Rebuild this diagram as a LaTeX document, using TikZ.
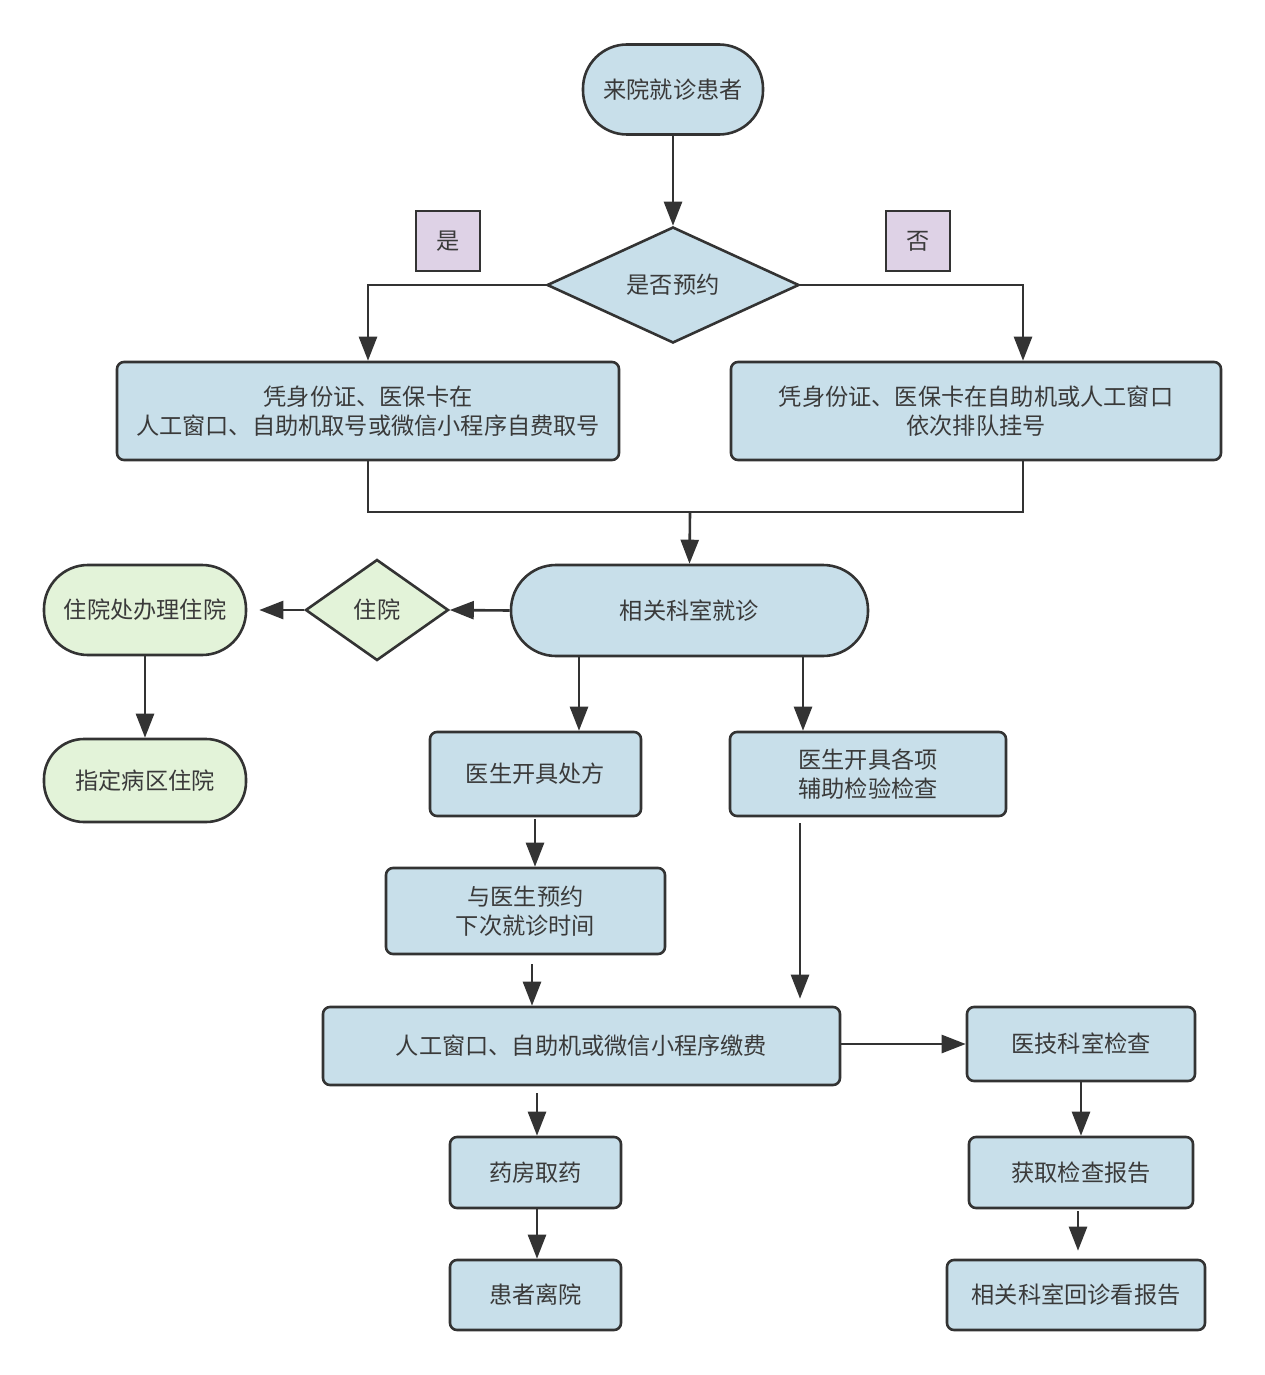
\documentclass[tikz,border=0pt]{standalone}
\usepackage{fontspec}
\newfontfamily\cjk{Noto Sans CJK SC}
\usetikzlibrary{shapes.geometric,arrows.meta,calc}
\definecolor{bluefill}{HTML}{C8DFEA}
\definecolor{greenfill}{HTML}{E3F3D9}
\definecolor{purplefill}{HTML}{DED2E6}
\definecolor{edge}{HTML}{333333}
\definecolor{txt}{HTML}{3A3A3A}
\tikzset{
  base/.style={draw=edge, line width=2.6pt, text=txt, align=center, inner sep=0pt,
    font=\cjk\fontsize{23.2}{29.5}\selectfont},
  procbox/.style={base, fill=bluefill, rectangle, rounded corners=7pt},
  termbox/.style={base, fill=bluefill, rectangle, rounded corners=44pt},
  greenterm/.style={base, fill=greenfill, rectangle, rounded corners=40pt},
  decbox/.style={base, fill=bluefill, diamond},
  greendec/.style={base, fill=greenfill, diamond},
  labelbox/.style={base, fill=purplefill, rectangle, line width=2.4pt},
  arr/.style={draw=edge, line width=2.6pt, -{Triangle[length=24pt,width=18pt]}},
  ln/.style={draw=edge, line width=2.6pt},
}
\begin{document}
\begin{tikzpicture}[x=1pt,y=-1pt]
\useasboundingbox[fill=white] (0,0) rectangle (1265,1375);

\node[termbox, minimum width=180pt, minimum height=90pt] (start) at (673,89.5) {来院就诊患者};
\node[decbox, minimum width=252pt, minimum height=116pt, aspect=2.17] (q1) at (673,285) {是否预约};
\node[labelbox, minimum width=64pt, minimum height=60pt] (yes) at (448,241) {是};
\node[labelbox, minimum width=64pt, minimum height=60pt] (no) at (918,241) {否};

\node[procbox, minimum width=502pt, minimum height=98pt] (left) at (368,411)
  {凭身份证、医保卡在\\人工窗口、自助机取号或微信小程序自费取号};
\node[procbox, minimum width=490pt, minimum height=98pt] (right) at (976,411)
  {凭身份证、医保卡在自助机或人工窗口\\依次排队挂号};

\node[termbox, minimum width=357pt, minimum height=91pt, rounded corners=45pt] (consult) at (689.5,610.5) {相关科室就诊};
\node[greendec, minimum width=143pt, minimum height=101pt, aspect=1.42] (zy) at (377,610) {住院};
\node[greenterm, minimum width=202pt, minimum height=90pt, rounded corners=44pt] (zyc) at (145,610) {住院处办理住院};
\node[greenterm, minimum width=202pt, minimum height=83pt, rounded corners=40pt] (zdbq) at (145,780.5) {指定病区住院};

\node[procbox, minimum width=211pt, minimum height=84pt] (cf) at (535.5,774) {医生开具处方};
\node[procbox, minimum width=276pt, minimum height=84pt] (fz) at (868,774) {医生开具各项\\辅助检验检查};
\node[procbox, minimum width=279pt, minimum height=86pt] (yy) at (525.5,911) {与医生预约\\下次就诊时间};
\node[procbox, minimum width=517pt, minimum height=78pt] (pay) at (581.5,1046) {人工窗口、自助机或微信小程序缴费};
\node[procbox, minimum width=228pt, minimum height=74pt] (yj) at (1081,1044) {医技科室检查};
\node[procbox, minimum width=224pt, minimum height=71pt] (bg) at (1081,1172.5) {获取检查报告};
\node[procbox, minimum width=258pt, minimum height=70pt] (hz) at (1076,1295) {相关科室回诊看报告};
\node[procbox, minimum width=171pt, minimum height=71pt] (yf) at (535.5,1172.5) {药房取药};
\node[procbox, minimum width=171pt, minimum height=70pt] (ly) at (535.5,1295) {患者离院};

% helper columns / points
\coordinate (colR) at (1023,0);
\coordinate (mj) at (690,512);
\coordinate (colA) at (579,0);
\coordinate (colB) at (803,0);
\coordinate (colC) at (535,0);
\coordinate (colD) at (532,0);
\coordinate (colE) at (800,0);
\coordinate (colF) at (537,0);
\coordinate (colG) at (1078,0);

% connectors
\draw[arr] (start.south) -- (q1.north);
\draw[arr] (q1.west) -| (left.north);
\draw[arr] (q1.east) -| (right.north -| colR);
\draw[ln] (left.south) |- (mj) -| (right.south -| colR);
\draw[arr] (mj) -- (consult.north);

\draw[arr] (consult.west) -- (zy.east);
\draw[arr] (zy.west) -- ([xshift=12pt]zyc.east);
\draw[arr] (zyc.south) -- (zdbq.north);

\draw[arr] (consult.south -| colA) -- (cf.north -| colA);
\draw[arr] (consult.south -| colB) -- (fz.north -| colB);
\draw[arr] ([yshift=-2pt]cf.south -| colC) -- (yy.north -| colC);
\draw[arr] ([yshift=-9pt]yy.south -| colD) -- (pay.north -| colD);
\draw[arr] ([yshift=-6pt]fz.south -| colE) -- ([yshift=7pt]pay.north -| colE);
\draw[arr] (pay.east |- yj.west) -- (yj.west);
\draw[arr] (yj.south) -- (bg.north);
\draw[arr] ([yshift=-2pt]bg.south -| colG) -- ([yshift=8pt]hz.north -| colG);
\draw[arr] ([yshift=-7pt]pay.south -| colF) -- (yf.north -| colF);
\draw[arr] (yf.south -| colF) -- (ly.north -| colF);
\end{tikzpicture}
\end{document}
